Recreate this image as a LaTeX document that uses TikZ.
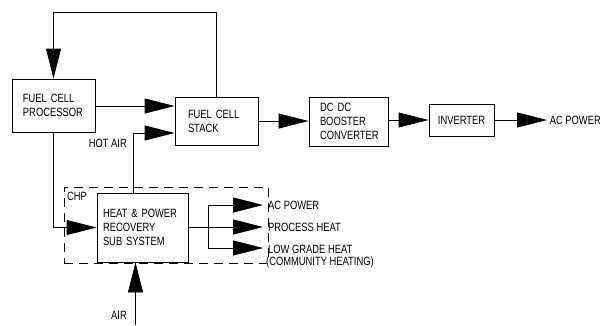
\documentclass[tikz,border=0pt]{standalone}
\usepackage{fontspec}
\setmainfont[FakeStretch=0.78]{Liberation Sans}
\usetikzlibrary{arrows.meta}
\tikzset{
  lw/.style={line width=0.9pt},
  txt/.style={font=\fontsize{12}{14}\selectfont},
  blk/.style={draw, lw, txt, align=left, inner ysep=0pt},
  lbl/.style={txt, inner sep=0pt, anchor=base west},
  lble/.style={txt, inner sep=0pt, anchor=base east},
  arr/.style={lw, -{Triangle[length=30pt,width=15pt]}},
  ln/.style={lw},
  chpbox/.style={draw, lw, dash pattern=on 9pt off 6pt, inner sep=0pt}
}
\begin{document}
\begin{tikzpicture}[x=1pt,y=-1pt]
\useasboundingbox (0,0) rectangle (602,325);
% boxes
\node[blk, minimum width=83, minimum height=53, text width=61, inner xsep=11] (proc) at (53.5,105.5) {FUEL CELL\\PROCESSOR};
\node[blk, minimum width=83, minimum height=48, text width=57, inner xsep=13] (stack) at (216.5,121) {FUEL CELL\\STACK};
\node[blk, minimum width=79, minimum height=49, text width=57, inner xsep=11] (dcdc) at (348.5,121.5) {DC DC\\BOOSTER\\CONVERTER};
\node[blk, minimum width=65, minimum height=32, align=center] (inv) at (461.5,120) {INVERTER};
\node[chpbox, minimum width=204, minimum height=76] (chp) at (166,225) {};
\node[blk, fill=white, minimum width=91, minimum height=69, text width=79, inner xsep=6] (hprs) at (142.5,227.5) {HEAT \& POWER\\RECOVERY\\SUB SYSTEM};
% labels
\node[lbl] (chplbl) at (67,200) {CHP};
\node[lble] (acout) at (601,124.3) {AC POWER};
\node[lble] (hotair) at (127,147.3) {HOT AIR};
\node[lble] (airlbl) at (127,319.3) {AIR};
\node[lbl] (acp) at (268,209.3) {AC POWER};
\node[lbl] (ph) at (268,231.3) {PROCESS HEAT};
\node[lbl] (lgh) at (268,253.3) {LOW GRADE HEAT};
\node[lbl] (comm) at (266,265.3) {(COMMUNITY HEATING)};
% coordinates
\coordinate (top) at (0,12);
\coordinate (r1) at (0,106);
\coordinate (ha) at (133,133);
\coordinate (br) at (208,0);
\coordinate (tipA) at (263,205);
\coordinate (tipP) at (263,227);
\coordinate (tipL) at (263,248);
\coordinate (airsrc) at (135.5,325);
\coordinate (acend) at (547,120);
% connectors
\draw[arr] (stack.north) -- (stack.north |- top) -| (proc.north);
\draw[arr] (proc.east |- r1) -- (stack.west |- r1);
\draw[arr] (ha |- hprs.north) |- (stack.west |- ha);
\draw[arr] (stack.east) -- (dcdc.west |- stack.east);
\draw[arr] (dcdc.east |- inv.west) -- (inv.west);
\draw[arr] (inv.east) -- (acend);
\draw[arr] (proc.south) |- (hprs.west);
\draw[arr] (hprs.east |- tipP) -- (tipP);
\draw[arr] (br |- tipP) |- (tipA);
\draw[arr] (br |- tipP) |- (tipL);
\draw[arr] (airsrc) -- (airsrc |- hprs.south);
\end{tikzpicture}
\end{document}
